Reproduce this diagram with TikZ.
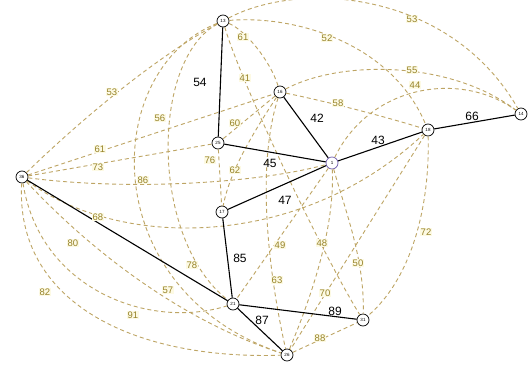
\documentclass[tikz,border=0pt]{standalone}
\usepackage{fontspec}
\setmainfont{Liberation Sans}
\definecolor{dcol}{RGB}{190,165,100}
\definecolor{lcol}{RGB}{150,130,40}
\definecolor{lfill}{RGB}{253,250,228}
\definecolor{vcol}{RGB}{110,90,170}
\begin{document}
\begin{tikzpicture}[x=1pt,y=-1pt,
  vtx/.style={circle,draw=black,line width=0.7pt,minimum size=12pt,inner sep=0pt,fill=white,font=\fontsize{4.5}{4.5}\selectfont},
  sline/.style={draw=black,line width=1.1pt},
  dline/.style={draw=dcol,line width=0.9pt,dash pattern=on 4pt off 3pt},
  blab/.style={font=\fontsize{12}{12}\selectfont,text=black,inner sep=0.5pt},
  olab/.style={font=\fontsize{9.5}{9.5}\selectfont,text=lcol,fill=lfill,inner sep=0.5pt}]
\fill[white] (0,0) rectangle (531,370);
\useasboundingbox (0,0) rectangle (531,370);
% vertices
\node[vtx] (n13) at (223,21) {13};
\node[vtx] (n16) at (280,92) {16};
\node[vtx] (n25) at (218,143) {25};
\node[vtx,draw=vcol] (n1) at (332,163) {1};
\node[vtx] (n18) at (428,130) {18};
\node[vtx] (n14) at (521,114) {14};
\node[vtx] (n36) at (22,177) {36};
\node[vtx] (n17) at (222,212) {17};
\node[vtx] (n21) at (233,304) {21};
\node[vtx] (n31) at (363,320) {31};
\node[vtx] (n26) at (287,355) {26};
% dashed edges
\draw[dline] (n13) .. controls (245,30) and (270,60) .. (n16);
\draw[dline] (n13) .. controls (290,15) and (390,40) .. (n18);
\draw[dline] (n13) .. controls (300,-20) and (450,-10) .. (n14);
\draw[dline] (n36) .. controls (70,130) and (150,60) .. (n13);
\draw[dline] (n13) .. controls (100,70) and (95,290) .. (n26);
\draw[dline] (n13) .. controls (150,60) and (150,240) .. (n21);
\draw[dline] (n13) .. controls (240,80) and (320,250) .. (n31);
\draw[dline] (n16) .. controls (320,100) and (380,115) .. (n18);
\draw[dline] (n16) .. controls (340,60) and (450,60) .. (n14);
\draw[dline] (n1) .. controls (370,85) and (460,70) .. (n14);
\draw[dline] (n36) -- (n16);
\draw[dline] (n36) -- (n25);
\draw[dline] (n36) .. controls (120,190) and (250,185) .. (n1);
\draw[dline] (n36) .. controls (120,250) and (300,250) .. (n18);
\draw[dline] (n36) .. controls (90,250) and (180,320) .. (n26);
\draw[dline] (n36) .. controls (40,290) and (150,330) .. (n21);
\draw[dline] (n36) .. controls (15,300) and (130,360) .. (n26);
\draw[dline] (n16) -- (n25);
\draw[dline] (n16) .. controls (255,130) and (230,170) .. (n17);
\draw[dline] (n25) -- (n17);
\draw[dline] (n1) -- (n21);
\draw[dline] (n1) .. controls (335,230) and (310,300) .. (n26);
\draw[dline] (n16) .. controls (255,170) and (270,280) .. (n26);
\draw[dline] (n18) -- (n26);
\draw[dline] (n1) .. controls (345,210) and (365,260) .. (n31);
\draw[dline] (n18) .. controls (430,210) and (410,280) .. (n31);
\draw[dline] (n26) -- (n31);
% solid edges
\draw[sline] (n13) -- (n25);
\draw[sline] (n16) -- (n1);
\draw[sline] (n25) -- (n1);
\draw[sline] (n17) -- (n1);
\draw[sline] (n1) -- (n18);
\draw[sline] (n18) -- (n14);
\draw[sline] (n36) -- (n21);
\draw[sline] (n17) -- (n21);
\draw[sline] (n21) -- (n31);
\draw[sline] (n21) -- (n26);
% black labels
\node[blab] (b54) at (200,82) {54};
\node[blab] (b42) at (317,118) {42};
\node[blab] (b45) at (270,163) {45};
\node[blab] (b47) at (285,200) {47};
\node[blab] (b43) at (378,140) {43};
\node[blab] (b66) at (472,116) {66};
\node[blab] (b85) at (240,258) {85};
\node[blab] (b87) at (262,320) {87};
\node[blab] (b89) at (335,311) {89};
% olive labels
\node[olab] (o61a) at (243,37) {61};
\node[olab] (o52) at (327,38) {52};
\node[olab] (o53a) at (412,19) {53};
\node[olab] (o53b) at (112,92) {53};
\node[olab] (o56) at (160,118) {56};
\node[olab] (o41) at (245,78) {41};
\node[olab] (o60) at (235,123) {60};
\node[olab] (o58) at (338,103) {58};
\node[olab] (o55) at (412,70) {55};
\node[olab] (o44) at (415,85) {44};
\node[olab] (o61b) at (100,149) {61};
\node[olab] (o73) at (98,167) {73};
\node[olab] (o86) at (143,180) {86};
\node[olab] (o76) at (210,160) {76};
\node[olab] (o62) at (235,170) {62};
\node[olab] (o68) at (98,217) {68};
\node[olab] (o80) at (73,243) {80};
\node[olab] (o82) at (45,292) {82};
\node[olab] (o57) at (168,290) {57};
\node[olab] (o91) at (133,315) {91};
\node[olab] (o78) at (192,265) {78};
\node[olab] (o49) at (280,245) {49};
\node[olab] (o48) at (322,243) {48};
\node[olab] (o63) at (277,280) {63};
\node[olab] (o50) at (358,263) {50};
\node[olab] (o70) at (325,293) {70};
\node[olab] (o72) at (426,232) {72};
\node[olab] (o88) at (320,338) {88};
\end{tikzpicture}
\end{document}
